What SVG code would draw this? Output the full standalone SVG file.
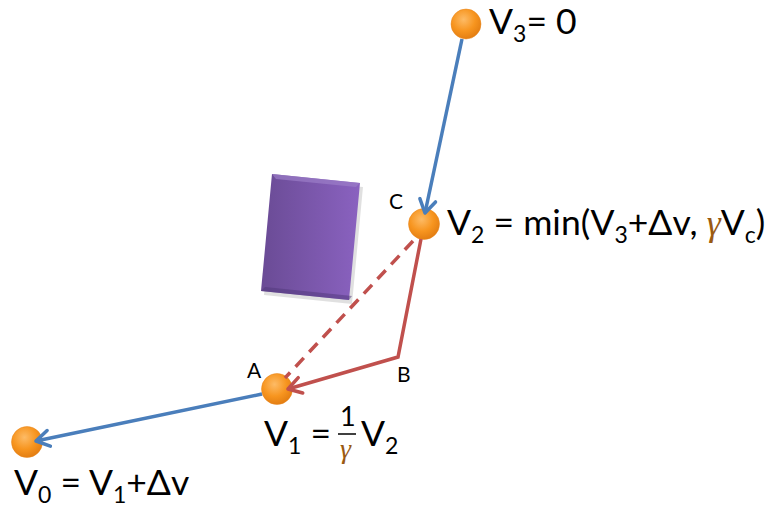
<svg xmlns="http://www.w3.org/2000/svg" width="769" height="508" viewBox="0 0 769 508">
<defs>
<radialGradient id="ball" cx="0.42" cy="0.35" r="0.7">
<stop offset="0" stop-color="#fdbb66"/>
<stop offset="0.55" stop-color="#f7951f"/>
<stop offset="1" stop-color="#e07a10"/>
</radialGradient>
<linearGradient id="purp" x1="0" y1="0" x2="1" y2="0">
<stop offset="0" stop-color="#6a4b95"/>
<stop offset="1" stop-color="#8a62c0"/>
</linearGradient>
<marker id="ab" markerUnits="userSpaceOnUse" markerWidth="30" markerHeight="30" viewBox="-15 -15 30 30" refX="0" refY="0" orient="auto">
<path d="M-13,-8 L0,0 L-13,8" fill="none" stroke="#4a7ebb" stroke-width="3.5" stroke-linecap="round" stroke-linejoin="round"/>
</marker>
<marker id="ar" markerUnits="userSpaceOnUse" markerWidth="30" markerHeight="30" viewBox="-15 -15 30 30" refX="0" refY="0" orient="auto">
<path d="M-13,-8 L0,0 L-13,8" fill="none" stroke="#c0504d" stroke-width="3.5" stroke-linecap="round" stroke-linejoin="round"/>
</marker>
</defs>
<style>
.t{font-family:Lato,"Liberation Sans",sans-serif;fill:#000}
.big{font-size:35.5px}
.lbl{font-size:21px}
.g{font-family:"Liberation Serif",serif;font-style:italic;fill:#9a5a12}
.node{fill:url(#ball);stroke:#e8841a;stroke-width:0.5}
.blue{stroke:#4a7ebb;stroke-width:3.5;fill:none}
.red{stroke:#c0504d;stroke-width:3.5;fill:none}
</style>
<rect width="769" height="508" fill="#fff"/>
<g id="box">
<polygon points="273,176 361,184 350,301 262,292" fill="#000" opacity="0.12" transform="translate(2,3)"/>
<polygon points="272,174 360,183 349,300 261,291" fill="url(#purp)"/>
<polygon points="272,174 360,183 356,187 276,179" fill="#9b7dc8" opacity="0.7"/>
<polygon points="261,291 349,300 352,296 265,287" fill="#50387a" opacity="0.5"/>
</g>
<g id="n3"><circle class="node" cx="466" cy="24" r="15"/></g>
<g id="n2"><circle class="node" cx="424" cy="224" r="15.5"/></g>
<g id="n1"><circle class="node" cx="277" cy="389" r="15.5"/></g>
<g id="n0"><circle class="node" cx="27" cy="442" r="15.5"/></g>
<g id="connectors">
<line class="blue" x1="462" y1="39" x2="425" y2="213" marker-end="url(#ab)"/>
<polyline class="red" points="421,239 398,357 288,389" marker-end="url(#ar)"/>
<line class="red" x1="413" y1="241" x2="285" y2="378" stroke-dasharray="12,8"/>
<line class="blue" x1="262" y1="394" x2="36" y2="441" marker-end="url(#ab)"/>
</g>
<g id="labels">
<text class="t big" x="489" y="34">V<tspan font-size="23" dy="8">3</tspan><tspan dy="-8">= 0</tspan></text>
<text class="t big" x="447" y="235">V<tspan font-size="23" dy="8">2</tspan><tspan dy="-8"> = min(V</tspan><tspan font-size="23" dy="8">3</tspan><tspan dy="-8">+Δv, </tspan><tspan class="g">γ</tspan><tspan>V</tspan><tspan font-size="23" dy="8">c</tspan><tspan dy="-8">)</tspan></text>
<text class="t lbl" x="389" y="209">C</text>
<text class="t lbl" x="247" y="378">A</text>
<text class="t lbl" x="397" y="382">B</text>
<text class="t big" x="264" y="446">V<tspan font-size="23" dy="8">1</tspan><tspan dy="-8"> =</tspan></text>
<text class="t" font-size="27" x="340" y="426">1</text>
<line x1="338" y1="434" x2="356" y2="434" stroke="#000" stroke-width="1.5"/>
<text class="g" font-size="28" x="340" y="458">γ</text>
<text class="t big" x="361" y="446">V<tspan font-size="23" dy="8">2</tspan></text>
<text class="t big" x="14" y="495">V<tspan font-size="23" dy="8">0</tspan><tspan dy="-8"> = V</tspan><tspan font-size="23" dy="8">1</tspan><tspan dy="-8">+Δv</tspan></text>
</g>
</svg>
